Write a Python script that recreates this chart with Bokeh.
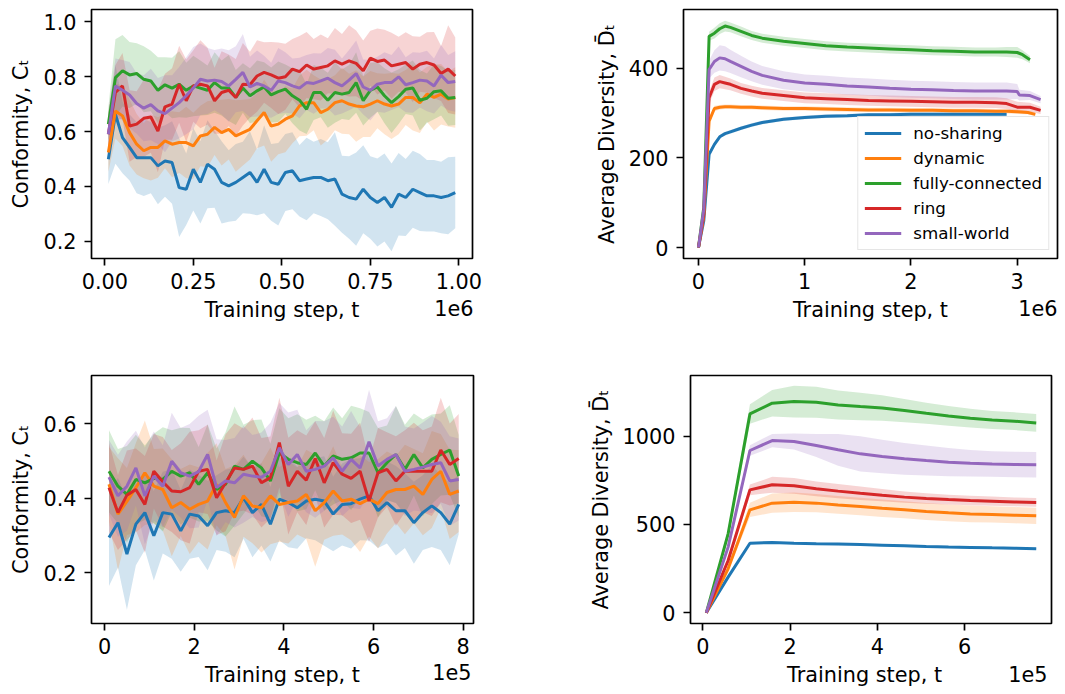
from bokeh.plotting import figure
from bokeh.layouts import column, row
from bokeh.models import Range1d, FixedTicker, NumeralTickFormatter, Label
from bokeh.embed import file_html
from bokeh.resources import INLINE

# ---------------- data ----------------
SERIES = ["no-sharing", "dynamic", "fully-connected", "ring", "small-world"]
COLORS = ["#1f77b4", "#ff7f0e", "#2ca02c", "#d62728", "#9467bd"]

# Top-left: conformity, training step in units of 1e6
tl_x = [round(0.01 + 0.02 * i, 2) for i in range(50)]
tl_noshare = [0.499,0.663,0.578,0.542,0.505,0.505,0.505,0.475,0.493,0.487,0.396,0.390,0.463,0.415,0.481,0.463,0.415,0.402,0.415,0.433,0.451,0.415,0.463,0.415,0.408,0.451,0.457,0.421,0.427,0.433,0.433,0.421,0.427,0.372,0.360,0.354,0.390,0.360,0.342,0.360,0.324,0.372,0.360,0.390,0.378,0.366,0.366,0.360,0.366,0.378]
tl_dynamic = [0.524,0.675,0.657,0.596,0.554,0.530,0.542,0.542,0.566,0.554,0.560,0.560,0.548,0.584,0.590,0.615,0.596,0.608,0.584,0.596,0.608,0.639,0.669,0.620,0.627,0.645,0.657,0.693,0.705,0.705,0.669,0.681,0.705,0.712,0.700,0.693,0.690,0.700,0.712,0.700,0.693,0.700,0.724,0.724,0.705,0.736,0.724,0.736,0.718,0.724]
tl_full = [0.627,0.796,0.821,0.806,0.811,0.790,0.784,0.750,0.770,0.758,0.772,0.750,0.766,0.758,0.750,0.778,0.758,0.758,0.724,0.758,0.730,0.748,0.762,0.733,0.745,0.754,0.730,0.714,0.681,0.742,0.742,0.714,0.742,0.736,0.742,0.778,0.712,0.750,0.762,0.730,0.705,0.727,0.754,0.758,0.714,0.721,0.745,0.748,0.721,0.724]
tl_ring = [0.590,0.742,0.766,0.620,0.627,0.648,0.653,0.602,0.690,0.700,0.772,0.712,0.766,0.772,0.766,0.712,0.742,0.750,0.724,0.772,0.770,0.802,0.815,0.806,0.794,0.799,0.827,0.818,0.842,0.827,0.833,0.839,0.857,0.845,0.857,0.848,0.821,0.867,0.855,0.860,0.839,0.845,0.851,0.827,0.845,0.851,0.842,0.811,0.827,0.802]
tl_small = [0.590,0.766,0.750,0.733,0.702,0.685,0.698,0.675,0.665,0.685,0.705,0.730,0.758,0.790,0.784,0.787,0.782,0.766,0.790,0.815,0.762,0.775,0.766,0.750,0.784,0.778,0.766,0.758,0.778,0.775,0.784,0.794,0.778,0.766,0.787,0.811,0.762,0.750,0.772,0.778,0.778,0.799,0.770,0.778,0.787,0.784,0.766,0.805,0.778,0.782]
tl_noshare_sd = [0.09,0.18,0.13,0.12,0.13,0.14,0.13,0.14,0.13,0.15,0.18,0.13,0.15,0.15,0.16,0.14,0.15,0.13,0.14,0.13,0.15,0.12,0.16,0.14,0.15,0.14,0.14,0.13,0.15,0.13,0.14,0.14,0.17,0.14,0.15,0.17,0.16,0.15,0.16,0.16,0.16,0.15,0.14,0.14,0.14,0.13,0.13,0.13,0.14,0.13]
tl_dynamic_sd = [0.07,0.10,0.11,0.12,0.11,0.10,0.12,0.11,0.10,0.12,0.11,0.13,0.12,0.11,0.12,0.10,0.12,0.11,0.13,0.12,0.11,0.10,0.12,0.13,0.11,0.12,0.10,0.11,0.12,0.10,0.12,0.11,0.10,0.12,0.11,0.13,0.11,0.12,0.10,0.11,0.12,0.11,0.10,0.12,0.11,0.10,0.12,0.11,0.10,0.11]
tl_full_sd = [0.06,0.14,0.13,0.12,0.11,0.12,0.11,0.12,0.10,0.11,0.12,0.10,0.11,0.10,0.09,0.11,0.10,0.12,0.10,0.09,0.10,0.11,0.09,0.10,0.11,0.09,0.10,0.11,0.09,0.10,0.09,0.10,0.11,0.09,0.10,0.11,0.09,0.10,0.09,0.10,0.11,0.10,0.09,0.10,0.11,0.09,0.10,0.09,0.10,0.10]
tl_ring_sd = [0.08,0.10,0.12,0.13,0.12,0.14,0.13,0.15,0.12,0.13,0.14,0.15,0.13,0.16,0.14,0.12,0.15,0.13,0.14,0.15,0.12,0.13,0.11,0.12,0.13,0.12,0.11,0.13,0.12,0.11,0.12,0.10,0.12,0.11,0.13,0.12,0.11,0.10,0.12,0.11,0.12,0.10,0.11,0.12,0.10,0.11,0.12,0.10,0.16,0.14]
tl_small_sd = [0.08,0.10,0.11,0.12,0.11,0.12,0.13,0.12,0.14,0.12,0.13,0.14,0.15,0.13,0.12,0.11,0.12,0.13,0.12,0.14,0.11,0.12,0.11,0.10,0.12,0.11,0.10,0.11,0.10,0.11,0.10,0.11,0.12,0.10,0.11,0.12,0.10,0.11,0.10,0.11,0.10,0.11,0.10,0.11,0.10,0.11,0.10,0.11,0.10,0.11]

# Top-right: average diversity, training step in units of 1e6
tr_grid = [0, 0.05, 0.1, 0.15, 0.2, 0.25, 0.3, 0.4, 0.5, 0.6, 0.8, 1.0, 1.2, 1.4, 1.6, 1.8, 2.0, 2.2, 2.4, 2.6, 2.8, 2.9, 3.0]
tr_x_noshare = tr_grid[:22]
tr_x_dynamic = tr_grid + [3.1, 3.17]
tr_x_full = tr_grid + [3.05, 3.12]
tr_x_ring = tr_grid + [3.12, 3.22]
tr_x_small = tr_grid + [3.02, 3.12, 3.22]
tr_noshare = [0, 60, 208, 230, 247, 254, 258, 266, 273, 279, 286, 290, 293, 294, 296, 296, 297, 297, 297, 297, 297, 297]
tr_dynamic = [0, 70, 282, 310, 313, 314, 314, 313, 313, 312, 310, 310, 309, 308, 307, 307, 306, 306, 305, 305, 304, 304, 303, 301, 297]
tr_full = [0, 90, 471, 478, 488, 494, 491, 482, 473, 467, 460, 455, 450, 447, 445, 443, 441, 439, 438, 436, 436, 436, 435, 430, 419]
tr_ring = [0, 75, 334, 364, 370, 367, 364, 355, 349, 344, 339, 334, 332, 330, 328, 327, 326, 325, 324, 324, 323, 321, 313, 313, 306]
tr_small = [0, 85, 397, 415, 423, 421, 415, 404, 393, 384, 373, 367, 364, 360, 358, 355, 353, 352, 350, 349, 349, 349, 348, 340, 339, 330]
tr_noshare_sd = [0, 3, 5, 5, 4, 4, 4, 4, 4, 4, 4, 4, 4, 4, 4, 4, 4, 4, 4, 4, 4, 4]
tr_dynamic_sd = [0, 5, 8, 6, 5, 5, 5, 5, 5, 5, 5, 5, 5, 5, 5, 5, 5, 5, 5, 5, 5, 5, 5, 4, 4]
tr_full_sd = [0, 8, 10, 12, 12, 12, 11, 11, 10, 10, 10, 10, 10, 10, 10, 10, 10, 10, 10, 10, 10, 11, 12, 10, 8]
tr_ring_sd = [0, 8, 14, 15, 15, 14, 13, 12, 12, 12, 12, 12, 12, 12, 12, 12, 12, 12, 12, 12, 12, 12, 12, 10, 8]
tr_small_sd = [0, 10, 20, 25, 28, 28, 26, 24, 22, 21, 20, 19, 19, 19, 19, 19, 19, 19, 19, 19, 19, 19, 17, 12, 10, 8]

# Bottom-left: conformity, training step in units of 1e5
bl_x = [round(0.1 + 0.2 * i, 1) for i in range(40)]
bl_noshare = [0.295,0.335,0.251,0.331,0.362,0.300,0.362,0.358,0.313,0.358,0.353,0.327,0.362,0.367,0.362,0.402,0.362,0.384,0.331,0.398,0.389,0.375,0.393,0.398,0.393,0.358,0.384,0.386,0.398,0.407,0.367,0.389,0.367,0.367,0.335,0.362,0.380,0.362,0.331,0.384]
bl_dynamic = [0.438,0.358,0.392,0.429,0.469,0.433,0.424,0.375,0.389,0.371,0.384,0.393,0.438,0.389,0.349,0.407,0.380,0.375,0.407,0.384,0.389,0.393,0.411,0.367,0.389,0.420,0.393,0.398,0.386,0.398,0.386,0.416,0.424,0.424,0.433,0.411,0.451,0.473,0.411,0.420]
bl_full = [0.473,0.433,0.411,0.451,0.442,0.454,0.451,0.473,0.460,0.469,0.438,0.469,0.424,0.438,0.487,0.478,0.500,0.482,0.447,0.522,0.505,0.496,0.491,0.522,0.487,0.514,0.505,0.509,0.522,0.522,0.469,0.496,0.518,0.478,0.518,0.482,0.505,0.518,0.530,0.460]
bl_ring = [0.429,0.362,0.409,0.424,0.384,0.473,0.445,0.420,0.418,0.429,0.473,0.478,0.402,0.442,0.482,0.478,0.487,0.442,0.456,0.550,0.433,0.473,0.449,0.507,0.442,0.496,0.465,0.454,0.473,0.393,0.469,0.478,0.447,0.473,0.473,0.473,0.473,0.530,0.491,0.507]
bl_small = [0.457,0.407,0.433,0.482,0.407,0.460,0.433,0.500,0.469,0.460,0.472,0.518,0.429,0.447,0.442,0.465,0.460,0.457,0.473,0.536,0.491,0.518,0.473,0.478,0.487,0.509,0.473,0.505,0.482,0.552,0.487,0.505,0.518,0.473,0.478,0.484,0.491,0.496,0.447,0.451]
bl_noshare_sd = [0.13,0.12,0.15,0.11,0.10,0.12,0.11,0.12,0.11,0.12,0.11,0.12,0.10,0.11,0.12,0.11,0.12,0.11,0.10,0.11,0.12,0.11,0.10,0.11,0.12,0.10,0.11,0.12,0.11,0.12,0.10,0.11,0.12,0.10,0.11,0.10,0.11,0.10,0.11,0.08]
bl_dynamic_sd = [0.10,0.15,0.09,0.12,0.14,0.10,0.11,0.13,0.09,0.12,0.10,0.13,0.11,0.09,0.14,0.11,0.10,0.12,0.13,0.10,0.11,0.09,0.12,0.15,0.10,0.12,0.09,0.11,0.13,0.10,0.12,0.11,0.09,0.12,0.10,0.11,0.13,0.10,0.12,0.11]
bl_full_sd = [0.11,0.10,0.13,0.12,0.10,0.12,0.14,0.11,0.13,0.12,0.10,0.13,0.11,0.14,0.16,0.12,0.11,0.13,0.10,0.12,0.11,0.13,0.12,0.10,0.12,0.13,0.11,0.14,0.12,0.11,0.12,0.10,0.13,0.12,0.11,0.13,0.12,0.11,0.12,0.11]
bl_ring_sd = [0.12,0.10,0.12,0.11,0.13,0.10,0.12,0.11,0.13,0.15,0.11,0.12,0.10,0.13,0.12,0.11,0.13,0.12,0.11,0.12,0.13,0.11,0.12,0.10,0.12,0.14,0.11,0.12,0.13,0.11,0.12,0.10,0.12,0.11,0.13,0.11,0.12,0.14,0.11,0.12]
bl_small_sd = [0.10,0.11,0.12,0.10,0.13,0.12,0.11,0.13,0.12,0.14,0.15,0.12,0.13,0.11,0.12,0.13,0.11,0.12,0.13,0.12,0.14,0.12,0.11,0.13,0.12,0.11,0.12,0.13,0.11,0.14,0.12,0.11,0.13,0.12,0.11,0.12,0.13,0.11,0.12,0.11]

# Bottom-right: average diversity, training step in units of 1e5
br_x = [0.08, 0.58, 1.08, 1.59, 2.09, 2.60, 3.10, 3.61, 4.11, 4.62, 5.12, 5.63, 6.13, 6.63, 7.14, 7.64]
br_noshare = [0, 202, 394, 398, 394, 391, 389, 387, 383, 379, 375, 372, 370, 368, 366, 362]
br_dynamic = [0, 249, 583, 621, 626, 621, 611, 602, 592, 583, 574, 566, 560, 557, 553, 549]
br_full = [0, 447, 1126, 1187, 1196, 1192, 1177, 1168, 1160, 1145, 1130, 1115, 1102, 1092, 1085, 1075]
br_ring = [0, 296, 696, 725, 719, 702, 689, 677, 666, 655, 647, 641, 636, 632, 628, 625]
br_small = [0, 372, 919, 975, 970, 947, 923, 900, 885, 872, 862, 853, 847, 843, 840, 838]
br_noshare_sd = [0, 4, 6, 6, 6, 6, 6, 6, 6, 6, 6, 6, 6, 6, 6, 6]
br_dynamic_sd = [0, 15, 40, 55, 55, 52, 50, 50, 50, 48, 48, 47, 47, 46, 46, 46]
br_full_sd = [0, 30, 55, 75, 90, 88, 82, 78, 72, 66, 60, 56, 53, 51, 50, 50]
br_ring_sd = [0, 15, 30, 45, 45, 42, 40, 38, 35, 32, 30, 28, 27, 26, 25, 25]
br_small_sd = [0, 15, 30, 38, 45, 65, 90, 100, 95, 90, 85, 80, 75, 72, 72, 72]

XLABEL = "Training step, t"
YLABEL_C = "Conformity, C\u209c"
YLABEL_D = "Average Diversity, D\u0304\u209c"

# ---------------- drawing ----------------
FONT = "DejaVu Sans"
FS = "20.8px"
NBSP = "\u00a0"


def make_panel(width, height, borders, xr, yr, xticks, yticks, xfmt, yfmt,
               ylabel, offset_text, offset_pos, xs, means, sds, legend=False,
               offset_side="below", xlabel=XLABEL):
    left, right, top, bottom = borders
    p = figure(width=width, height=height, x_range=Range1d(*xr), y_range=Range1d(*yr),
               output_backend="svg", toolbar_location=None,
               min_border_left=left, min_border_right=right,
               min_border_top=top, min_border_bottom=bottom)
    p.background_fill_color = "white"
    p.border_fill_color = "white"
    p.xgrid.visible = False
    p.ygrid.visible = False
    p.outline_line_color = "black"
    p.outline_line_width = 1.7
    p.outline_line_alpha = 1.0

    # bands first
    for x, m, s, c in zip(xs, means, sds, COLORS):
        lo = [a - b for a, b in zip(m, s)]
        hi = [a + b for a, b in zip(m, s)]
        p.varea(x=x, y1=lo, y2=hi, fill_color=c, fill_alpha=0.2)
    for x, m, c, name in zip(xs, means, COLORS, SERIES):
        if legend:
            p.line(x, m, line_color=c, line_width=3, legend_label=name)
        else:
            p.line(x, m, line_color=c, line_width=3)

    p.xaxis.ticker = FixedTicker(ticks=xticks)
    p.yaxis.ticker = FixedTicker(ticks=yticks)
    p.xaxis.formatter = NumeralTickFormatter(format=xfmt)
    p.yaxis.formatter = NumeralTickFormatter(format=yfmt)
    p.xaxis.axis_label = xlabel
    p.yaxis.axis_label = ylabel
    for ax in (p.xaxis[0], p.yaxis[0]):
        ax.axis_line_color = None
        ax.major_tick_line_color = "black"
        ax.major_tick_line_width = 1.7
        ax.major_tick_out = 7
        ax.major_tick_in = 0
        ax.minor_tick_line_color = None
        ax.major_label_text_font = FONT
        ax.major_label_text_font_size = FS
        ax.major_label_text_color = "black"
        ax.axis_label_text_font = FONT
        ax.axis_label_text_font_size = FS
        ax.axis_label_text_font_style = "normal"
        ax.axis_label_text_color = "black"
    p.xaxis.major_label_standoff = 7
    p.xaxis.axis_label_standoff = 6
    p.yaxis.major_label_standoff = 8
    p.yaxis.axis_label_standoff = 7

    # offset text ("1e6"/"1e5") hosted in a side panel (so it is not clipped to the frame),
    # positioned in canvas pixels below the right end of the frame
    if offset_side is not None:
        p.add_layout(Label(x=offset_pos[0], y=offset_pos[1], x_units="canvas", y_units="canvas",
                           text=offset_text, text_align="right", text_baseline="top",
                           text_font=FONT, text_font_size=FS, text_color="black"), offset_side)

    if legend:
        lg = p.legend[0]
        lg.location = "bottom_right"
        lg.margin = 8
        lg.padding = 6
        lg.spacing = 5
        lg.label_height = 20
        lg.glyph_height = 20
        lg.glyph_width = 37
        lg.label_standoff = 12
        lg.label_text_font = FONT
        lg.label_text_font_size = "16.7px"
        lg.label_text_color = "black"
        lg.border_line_color = "#cccccc"
        lg.border_line_width = 1
        lg.background_fill_alpha = 0.8
    return p


p1 = make_panel(570, 366, (91, 98, 9, 108), (-0.0376, 1.0387), (0.138, 1.044),
                [0, 0.25, 0.5, 0.75, 1.0], [0.2, 0.4, 0.6, 0.8, 1.0], "0.00", "0.0",
                YLABEL_C, "1e6", (473, 299), [tl_x] * 5,
                [tl_noshare, tl_dynamic, tl_full, tl_ring, tl_small],
                [tl_noshare_sd, tl_dynamic_sd, tl_full_sd, tl_ring_sd, tl_small_sd])

p2 = make_panel(495, 366, (113, 8, 9, 108), (-0.141, 3.379), (-24.5, 530.9),
                [0, 1, 2, 3], [0, 200, 400], "0", "0",
                YLABEL_D, "1e6", (487, 299),
                [tr_x_noshare, tr_x_dynamic, tr_x_full, tr_x_ring, tr_x_small],
                [tr_noshare, tr_dynamic, tr_full, tr_ring, tr_small],
                [tr_noshare_sd, tr_dynamic_sd, tr_full_sd, tr_ring_sd, tr_small_sd],
                legend=True)

p3 = make_panel(570, 328, (91, 97, 8, 71), (-0.29, 8.23), (0.0644, 0.730),
                [0, 2, 4, 6, 8], [0.2, 0.4, 0.6], "0", "0.0",
                YLABEL_C, "1e5", (471, 297), [bl_x] * 5,
                [bl_noshare, bl_dynamic, bl_full, bl_ring, bl_small],
                [bl_noshare_sd, bl_dynamic_sd, bl_full_sd, bl_ring_sd, bl_small_sd],
                offset_side="right")

# the bottom-right panel has no spare border, so its "1e5" shares the axis-label line
p4 = make_panel(495, 328, (120, 14, 9, 71), (-0.282, 7.99), (-60.6, 1343.7),
                [0, 2, 4, 6], [0, 500, 1000], "0", "0",
                YLABEL_D, "1e5", None, [br_x] * 5,
                [br_noshare, br_dynamic, br_full, br_ring, br_small],
                [br_noshare_sd, br_dynamic_sd, br_full_sd, br_ring_sd, br_small_sd],
                offset_side=None,
                xlabel=NBSP * 14 + XLABEL + NBSP * 10 + "1e5")

layout = column(row(p1, p2), row(p3, p4))
open("out.html", "w").write(file_html(layout, INLINE))
